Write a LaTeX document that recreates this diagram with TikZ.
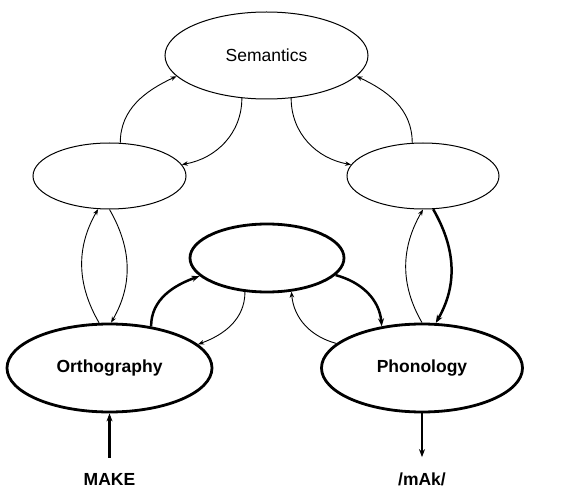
\documentclass[tikz,border=0pt]{standalone}
\usepackage{fontspec}
\setmainfont{Liberation Sans}
\usetikzlibrary{shapes.geometric,arrows.meta}
\begin{document}
\begin{tikzpicture}[x=1pt,y=1pt,
    layer/.style={draw,ellipse,line width=1pt,inner sep=0pt,
      font=\fontsize{17.5}{21}\selectfont},
    boldlayer/.style={layer,line width=2.8pt,font=\fontsize{17.5}{21}\selectfont\bfseries},
    word/.style={anchor=base,inner sep=0pt,font=\fontsize{17.5}{21}\selectfont\bfseries},
    thinlink/.style={->,>={Stealth[length=6pt,width=4.5pt]},line width=0.9pt},
    boldlink/.style={->,>={Stealth[length=8pt,width=6pt]},line width=2.5pt}]
  \useasboundingbox (0,0) rectangle (568,488);
  % layers
  \node[layer,minimum width=203,minimum height=87] (sem) at (266.5,432.5) {Semantics};
  \node[layer,minimum width=153,minimum height=66] (hidL) at (109.5,312) {};
  \node[layer,minimum width=152,minimum height=66] (hidR) at (423,312) {};
  \node[boldlayer,minimum width=154,minimum height=68] (hidC) at (267,230) {};
  \node[boldlayer,minimum width=205,minimum height=88] (orth) at (109.5,120) {Orthography};
  \node[boldlayer,minimum width=201,minimum height=88] (phon) at (422,120) {Phonology};
  % input and output
  \node[word] (make) at (109.5,3) {MAKE};
  \node[word] (mak) at (422,3) {/mAk/};
  \draw[boldlink,shorten <=15pt] (make) -- (orth);
  \draw[boldlink,shorten >=15pt] (phon) -- (mak);
  % semantics links
  \draw[thinlink] (hidL.72) to[out=90,in=205] (sem.193);
  \draw[thinlink] (sem.240) to[out=-90,in=10] (hidL.9);
  \draw[thinlink] (sem.-60) to[out=-90,in=170] (hidR.171);
  \draw[thinlink] (hidR.108) to[out=90,in=-25] (sem.-13);
  % vertical links
  \draw[thinlink] (orth.103) to[out=120,in=-120] (hidL.251);
  \draw[thinlink] (hidL.270) to[out=-60,in=60] (orth.88);
  \draw[thinlink] (phon.90) to[out=120,in=-120] (hidR.270);
  \draw[boldlink] (hidR.-73) to[out=-60,in=60] (phon.73);
  % centre links
  \draw[boldlink] (orth.45) to[out=90,in=200] (hidC.195);
  \draw[thinlink] (hidC.237) to[out=-90,in=20] (orth.15);
  \draw[boldlink] (hidC.-14) to[out=-15,in=95] (phon.134);
  \draw[thinlink] (phon.164) to[out=165,in=-85] (hidC.-54);
\end{tikzpicture}
\end{document}
